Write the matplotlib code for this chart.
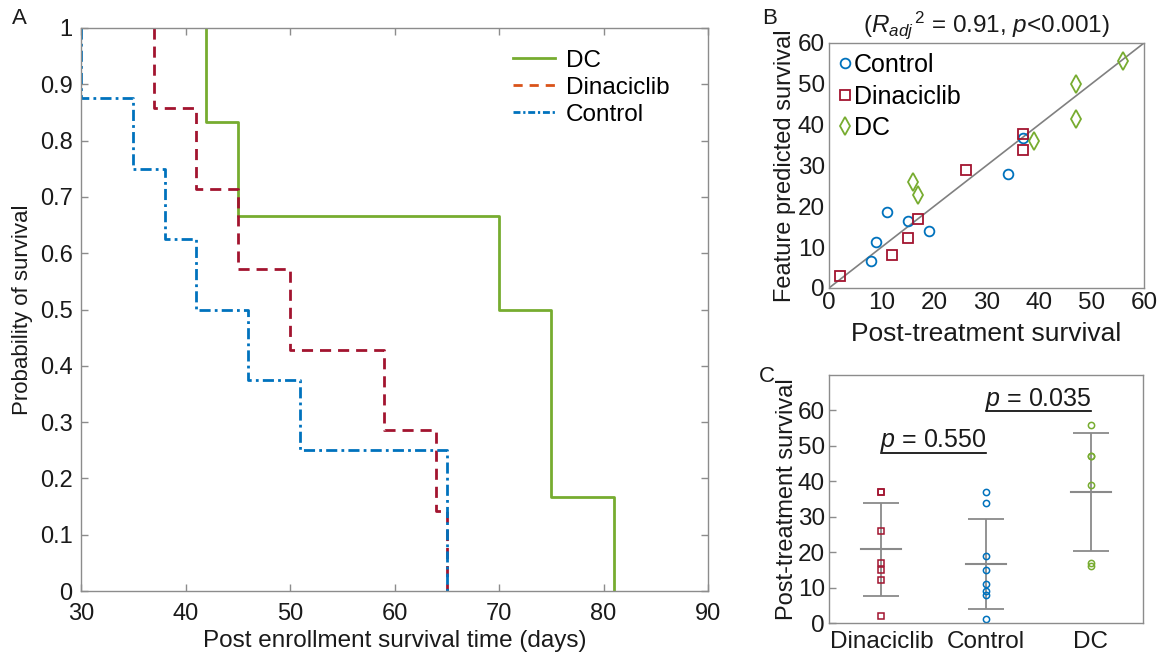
import matplotlib
matplotlib.use('Agg')
import matplotlib.pyplot as plt
from matplotlib.lines import Line2D
import numpy as np

plt.rcParams['font.family'] = ['Liberation Sans', 'DejaVu Sans']
plt.rcParams['mathtext.fontset'] = 'custom'
plt.rcParams['mathtext.rm'] = 'Liberation Sans'
plt.rcParams['mathtext.it'] = 'Liberation Sans:italic'

# MATLAB default colours
GREEN = '#77AC30'
RED = '#A2142F'
ORANGE = '#D95319'
BLUE = '#0072BD'
GRAY = '#8c8c8c'
TXT = '#1a1a1a'

# ---- panel A: death times (days after enrollment)
dc_deaths = [42, 45, 70, 75, 75, 81]
dina_deaths = [37, 41, 45, 50, 59, 64, 65]
ctrl_deaths = [30, 35, 38, 41, 46, 51, 65, 65]

# ---- panel B: post-treatment survival vs feature predicted survival
ctrl_true = [8, 9, 11, 15, 19, 34, 37]
ctrl_pred = [6.7, 11.2, 18.7, 16.4, 14.0, 28.0, 36.8]
dina_true = [2, 12, 15, 17, 26, 37, 37]
dina_pred = [3.0, 8.0, 12.2, 17.0, 29.0, 37.8, 33.8]
dc_true = [16, 17, 39, 47, 47, 56]
dc_pred = [26.0, 22.8, 36.0, 50.0, 41.5, 55.5]

# ---- panel C: post-treatment survival by group
groups = ['Dinaciclib', 'Control', 'DC']
c_dina = [2, 12, 15, 17, 26, 37, 37]
c_ctrl = [1, 8, 9, 11, 15, 19, 34, 37]
c_dc = [16, 17, 39, 47, 47, 56]
p_labels = ['0.550', '0.035']
p_pairs = [(1, 2), (2, 3)]
p_heights = [48, 59.7]

DASH = (0, (4, 2.5))
DASHDOT = (0, (4, 1.5, 1, 1.5))


def km_curve(deaths):
    n = len(deaths)
    times = sorted(set(deaths))
    xs = [times[0]]
    ys = [1.0]
    dead = 0
    for t in times:
        dead += deaths.count(t)
        xs.append(t)
        ys.append(1 - dead / n)
    return xs, ys


def style_axes(ax, fs):
    for s in ax.spines.values():
        s.set_color(GRAY)
        s.set_linewidth(1.0)
        s.set_zorder(5)
    ax.tick_params(direction='in', color=GRAY, labelcolor=TXT, labelsize=fs,
                   length=5, width=1.0, top=True, right=True, pad=5)


fig = plt.figure(figsize=(11.61, 6.55), dpi=100)
W, H = 1161, 655

# ================= panel A
axA = fig.add_axes([81 / W, 1 - 591 / H, 627 / W, 563 / H])
for deaths, col, ls in [(dc_deaths, GREEN, '-'), (dina_deaths, RED, DASH),
                        (ctrl_deaths, BLUE, DASHDOT)]:
    xs, ys = km_curve(deaths)
    axA.step(xs, ys, where='post', color=col, lw=2, linestyle=ls)
axA.set_xlim(30, 90)
axA.set_ylim(0, 1)
axA.set_xticks(np.arange(30, 91, 10))
axA.set_yticks(np.arange(0, 1.01, 0.1))
axA.set_yticklabels(['0', '0.1', '0.2', '0.3', '0.4', '0.5', '0.6', '0.7', '0.8', '0.9', '1'])
style_axes(axA, 17)
axA.tick_params(axis='x', pad=9)
axA.tick_params(axis='y', pad=6)
axA.set_xlabel('Post enrollment survival time (days)', fontsize=17.5, color=TXT, labelpad=3)
axA.set_ylabel('Probability of survival', fontsize=16, color=TXT, labelpad=5)
handles = [Line2D([], [], color=GREEN, lw=2),
           Line2D([], [], color=ORANGE, lw=2, linestyle=(0, (3.3, 2.5))),
           Line2D([], [], color=BLUE, lw=2, linestyle=(0, (2.5, 1, 0.8, 1)))]
axA.legend(handles, ['DC', 'Dinaciclib', 'Control'], loc='upper left',
           bbox_to_anchor=(0.654, 1.0), frameon=False, fontsize=17.5,
           handlelength=1.73, handletextpad=0.45, labelspacing=0.2)

# ================= panel B
axB = fig.add_axes([829 / W, 1 - 288 / H, 315 / W, 245 / H])
axB.plot([0, 60], [0, 60], color='#808080', lw=1.2, zorder=1)
axB.plot(ctrl_true, ctrl_pred, 'o', mfc='none', mec=BLUE, mew=1.3, ms=7, label='Control')
axB.plot(dina_true, dina_pred, 's', mfc='none', mec=RED, mew=1.3, ms=7, label='Dinaciclib')
axB.plot(dc_true, dc_pred, 'd', mfc='none', mec=GREEN, mew=1.3, ms=9, label='DC')
axB.set_xlim(0, 60)
axB.set_ylim(0, 60)
axB.set_xticks(np.arange(0, 61, 10))
axB.set_yticks(np.arange(0, 61, 10))
style_axes(axB, 17.5)
axB.tick_params(length=0, pad=3)
axB.set_xlabel('Post-treatment survival', fontsize=19, color=TXT, labelpad=6)
axB.set_ylabel('Feature predicted survival', fontsize=17, color=TXT, labelpad=1)
axB.set_title(r'($R_{adj}$$^{\,2}$ = 0.91, $p$<0.001)', fontsize=17.5, color=TXT, pad=8)
axB.legend(loc='upper left', bbox_to_anchor=(-0.032, 1.04), frameon=False, fontsize=18,
           handlelength=0.5, handletextpad=0.1, labelspacing=0.3, borderpad=0.3)

# ================= panel C
axC = fig.add_axes([829 / W, 1 - 623 / H, 314 / W, 248 / H])
cdata = [c_dina, c_ctrl, c_dc]
cmark = [('s', RED), ('o', BLUE), ('o', GREEN)]
for i, (vals, (mk, col)) in enumerate(zip(cdata, cmark)):
    x = i + 1
    axC.plot([x] * len(vals), vals, mk, mfc='none', mec=col, mew=1.1, ms=4.5, zorder=3)
    m = np.mean(vals)
    sd = np.std(vals, ddof=1)
    axC.plot([x - 0.19, x + 0.19], [m, m], color='#8a8a8a', lw=1.5, zorder=2)
    axC.errorbar(x, m, yerr=sd, color='#8a8a8a', lw=1.3, capsize=13, capthick=1.3,
                 fmt='none', zorder=2)
for (a, b), lab, h in zip(p_pairs, p_labels, p_heights):
    axC.plot([a, b], [h, h], color='black', lw=1.2)
    axC.text((a + b) / 2, h + 1.6, r'$p$ = ' + lab, ha='center', va='baseline',
             fontsize=18, color=TXT)
axC.set_xlim(0.5, 3.5)
axC.set_ylim(0, 70)
axC.set_yticks(np.arange(0, 61, 10))
axC.set_xticks([1, 2, 3])
axC.set_xticklabels(groups)
style_axes(axC, 17.5)
axC.tick_params(top=False, right=False, pad=3)
axC.tick_params(axis='x', length=0, pad=6)
axC.set_ylabel('Post-treatment survival', fontsize=17, color=TXT, labelpad=0)

# panel letters
fig.text(12 / W, 1 - 19 / H, 'A', fontsize=16, color=TXT, va='center')
fig.text(762 / W, 1 - 18 / H, 'B', fontsize=16, color=TXT, va='center')
fig.text(759 / W, 1 - 377 / H, 'C', fontsize=16, color=TXT, va='center')

fig.savefig('out.png', dpi=100)
